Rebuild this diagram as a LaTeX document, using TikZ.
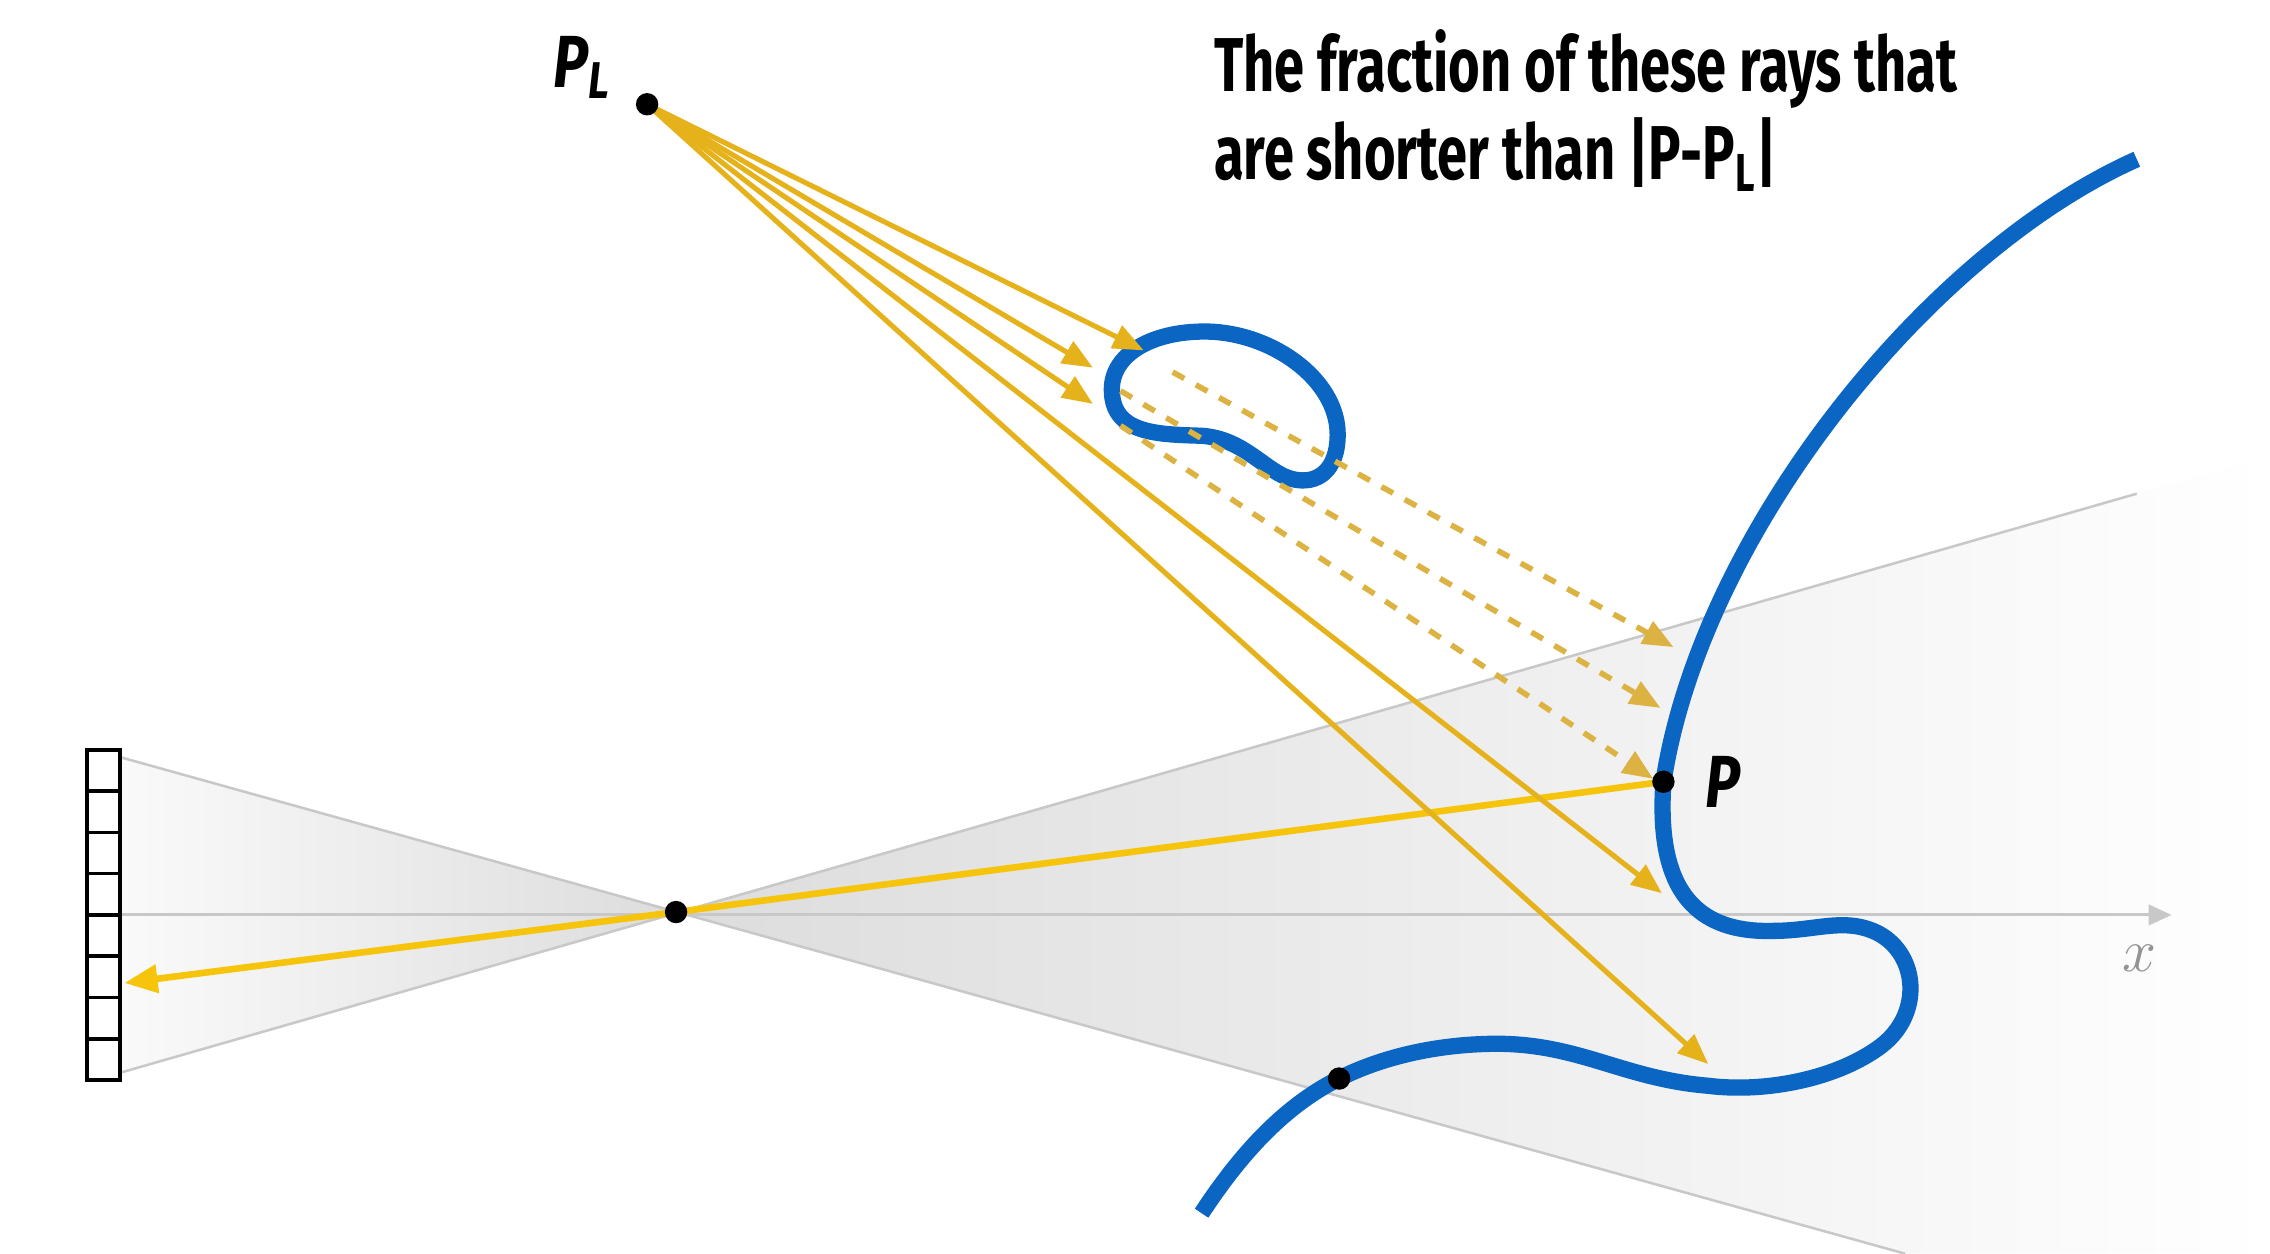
\documentclass[tikz,border=0pt]{standalone}
\usepackage{fontspec}
\newfontfamily\slidefont{Fira Sans}
\usepackage{tikz}
\usetikzlibrary{arrows.meta, positioning}

\definecolor{raygold}{RGB}{230,178,28}
\definecolor{shadowgold}{RGB}{220,178,66}
\definecolor{eyegold}{RGB}{246,196,10}
\definecolor{surfblue}{RGB}{10,102,194}
\definecolor{conegray}{RGB}{200,200,200}

\tikzset{
  ptdot/.style={circle, fill=black, inner sep=0pt, minimum size=4.4pt},
  lightray/.style={raygold, line width=1pt, -{Triangle[length=6pt,width=4.8pt]}},
  blockedray/.style={shadowgold, line width=1.1pt, dash pattern=on 2.6pt off 2.6pt, -{Triangle[length=6pt,width=4.8pt]}},
  eyeray/.style={eyegold, line width=1.3pt, -{Triangle[length=6.5pt,width=5.4pt]}},
  surface/.style={surfblue, line width=3.2pt},
  cone/.style={conegray, line width=0.5pt},
  ptlab/.style={inner sep=0pt, font=\slidefont\bfseries\itshape\fontsize{14.5}{16}\selectfont},
  note/.style={inner sep=0pt, align=left, font=\slidefont\bfseries\fontsize{15}{16.8}\selectfont},
}

\begin{document}
\begin{tikzpicture}[>=latex, x=0.01cm, y=-0.01cm]
    \useasboundingbox (0,0) rectangle (1568,866);

    % 1. Điểm chính
    \coordinate (PL) at (447,72);
    \coordinate (P) at (1149,540);
    \coordinate (pinhole) at (467,630);
    \coordinate (Q) at (925,745);
    \coordinate (sensTop) at (83,523);
    \coordinate (sensBot) at (83,741);
    \coordinate (coneUp) at (1476,341);
    \coordinate (coneUpEnd) at (1568,315);
    \coordinate (coneLow) at (1316,866);
    \coordinate (axStart) at (83,632);
    \coordinate (axEnd) at (1500,632);
    \coordinate (pixHit) at (86,679);

    % 2. Vùng nhìn của camera
    \shade[left color=gray!4, right color=gray!27] (sensTop) -- (pinhole) -- (sensBot) -- cycle;
    \shade[left color=gray!27, right color=white] (pinhole) -- (coneUp) -- (coneUpEnd)
        -- (1568,866) -- (coneLow) -- cycle;
    \draw[cone] (sensTop) -- (coneLow);
    \draw[cone] (sensBot) -- (coneUp);
    \draw[conegray, line width=0.6pt, -{Triangle[length=4.5pt,width=4pt]}] (axStart) -- (axEnd);
    \node[text=gray!85, font=\fontsize{12}{14}\selectfont] (xlab) at (1478,662) {$x$};

    % 3. Cảm biến
    \foreach \i in {0,...,7}
        \draw[line width=0.7pt] (60,{518+28.5*\i}) rectangle ++(23,28.5);

    % 4. Tia từ P qua lỗ kim
    \draw[eyeray] (P) -- (pinhole) -- (pixHit);

    % 5. Bề mặt
    \draw[surface] (1476,110) .. controls (1330,175) and (1175,370) .. (P)
        .. controls (1145,600) and (1160,645) .. (1225,643)
        .. controls (1255,643) and (1275,633) .. (1298,645)
        .. controls (1325,660) and (1328,700) .. (1300,722)
        .. controls (1270,745) and (1220,755) .. (1180,750)
        .. controls (1120,745) and (1090,720) .. (1030,721)
        .. controls (980,722) and (945,735) .. (Q)
        .. controls (885,765) and (855,800) .. (830,838);
    \draw[surface] (768,269) .. controls (768,245) and (795,229) .. (832,229)
        .. controls (878,229) and (924,262) .. (924,300)
        .. controls (924,325) and (910,335) .. (893,331)
        .. controls (875,327) and (860,303) .. (830,301)
        .. controls (800,300) and (768,300) .. (768,269) -- cycle;

    % 6. Tia từ nguồn sáng
    \coordinate (hitA) at (790,242);
    \coordinate (hitB) at (755,254);
    \coordinate (hitC) at (755,279);
    \coordinate (hitD) at (1148,617);
    \coordinate (hitE) at (1180,735);
    \draw[lightray] (PL) -- (hitA);
    \draw[lightray] (PL) -- (hitB);
    \draw[lightray] (PL) -- (hitC);
    \draw[lightray] (PL) -- (hitD);
    \draw[lightray] (PL) -- (hitE);

    % 7. Tia bị che (nét đứt)
    \coordinate (blkA) at (810,257);
    \coordinate (blkB) at (774,270);
    \coordinate (blkC) at (774,294);
    \coordinate (endA) at (1156,447);
    \coordinate (endB) at (1147,489);
    \coordinate (endC) at (1142,538);
    \draw[blockedray] (blkA) -- (endA);
    \draw[blockedray] (blkB) -- (endB);
    \draw[blockedray] (blkC) -- (endC);

    % 8. Chấm và nhãn
    \node[ptdot] (PLdot) at (PL) {};
    \node[ptdot] (Pdot) at (P) {};
    \node[ptdot] (pindot) at (pinhole) {};
    \node[ptdot] (Qdot) at (Q) {};
    \node[ptlab, above left=-0.03cm and 0.18cm of PLdot] (PLlab) {\scalebox{0.8}[1]{P\textsubscript{L}}};
    \node[ptlab, right=0.2cm of Pdot] (Plab) {\scalebox{0.8}[1]{P}};
    \node[note, anchor=north west] (caption) at (838,20) {\scalebox{0.71}[1]{\begin{tabular}{@{}l@{}}The fraction of these rays that\\ are shorter than |P-P\textsubscript{L}|\end{tabular}}};
\end{tikzpicture}
\end{document}
